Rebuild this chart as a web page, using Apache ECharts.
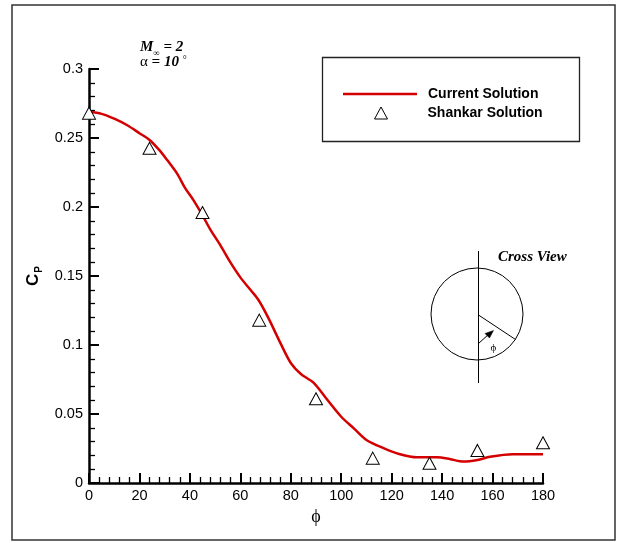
<!DOCTYPE html>
<html>
<head>
<meta charset="utf-8">
<script src="https://cdn.jsdelivr.net/npm/echarts@6/dist/echarts.min.js"></script>
<style>
html,body{margin:0;padding:0;background:#fff;}
#main{width:618px;height:543px;}
</style>
</head>
<body>
<div id="main"></div>
<script>
// ---- data ----
var currentPhi = [0, 5, 10, 15, 20, 24, 28, 31, 35, 38, 41.4, 45, 48, 52, 56, 60, 64, 67.2, 71, 76, 80, 84, 89, 94, 100, 105, 110, 117, 123, 130, 138, 143, 148.5, 154, 159, 168, 180];
var currentCp  = [0.269, 0.2675, 0.264, 0.2594, 0.2535, 0.2486, 0.241, 0.234, 0.224, 0.214, 0.205, 0.194, 0.184, 0.1725, 0.160, 0.149, 0.140, 0.1326, 0.120, 0.101, 0.087, 0.079, 0.0727, 0.0614, 0.048, 0.0396, 0.0312, 0.0251, 0.021, 0.0186, 0.0186, 0.0174, 0.0155, 0.0167, 0.019, 0.0208, 0.0208];
var shankarPhi = [0, 24, 45, 67.5, 90, 112.5, 135, 154, 180];
var shankarCp  = [0.268, 0.2425, 0.196, 0.118, 0.061, 0.018, 0.0143, 0.0236, 0.0292];
var xTicks = {min: 0, max: 180, interval: 20};
var yTicks = {min: 0, max: 0.3, interval: 0.05};

var chart = echarts.init(document.getElementById('main'), null, {renderer: 'canvas'});

function zip(a, b) { return a.map(function (v, i) { return [v, b[i]]; }); }

var axisFont = 'Liberation Sans, Arial, sans-serif';
var legendText = {fontFamily: axisFont, fontWeight: 'bold', fontSize: 14, color: '#000'};

var option = {
  backgroundColor: '#fff',
  animation: false,
  grid: {left: 89, top: 69, width: 454, height: 414, containLabel: false},
  xAxis: {
    type: 'value',
    min: xTicks.min, max: xTicks.max, interval: xTicks.interval,
    name: '\u03D5',
    nameLocation: 'middle',
    nameGap: 20,
    nameTextStyle: {fontFamily: 'Liberation Serif, serif', fontSize: 18, color: '#000'},
    axisLine: {show: true, lineStyle: {color: '#000', width: 2.5}},
    axisTick: {show: true, inside: true, length: 10, lineStyle: {color: '#000', width: 2}},
    minorTick: {show: true, splitNumber: 5, length: 6, lineStyle: {color: '#000', width: 1.3}},
    axisLabel: {color: '#000', fontFamily: axisFont, fontSize: 14.5, margin: 5},
    splitLine: {show: false}
  },
  yAxis: {
    type: 'value',
    min: yTicks.min, max: yTicks.max, interval: yTicks.interval,
    name: '{c|C}{p|P}',
    nameLocation: 'middle',
    nameRotate: 90,
    nameGap: 43,
    nameTextStyle: {
      rich: {
        c: {fontFamily: axisFont, fontWeight: 'bold', fontSize: 17, color: '#000', lineHeight: 20, verticalAlign: 'bottom'},
        p: {fontFamily: axisFont, fontWeight: 'bold', fontSize: 10, color: '#000', lineHeight: 20, verticalAlign: 'bottom', padding: [0, 0, -2, 1]}
      }
    },
    axisLine: {show: true, lineStyle: {color: '#000', width: 2.5}},
    axisTick: {show: true, inside: true, length: 10, lineStyle: {color: '#000', width: 2}},
    minorTick: {show: true, splitNumber: 5, length: 6, lineStyle: {color: '#000', width: 1.3}},
    axisLabel: {color: '#000', fontFamily: axisFont, fontSize: 14.5, margin: 6},
    splitLine: {show: false}
  },
  legend: [
    {
      left: 343, top: 87,
      itemWidth: 74, itemHeight: 12,
      padding: 0,
      textStyle: Object.assign({padding: [0, 0, 0, 6]}, legendText),
      data: [{name: 'Current Solution', icon: 'path://M0,0H74V2.5H0Z', itemStyle: {color: '#d40000', borderWidth: 0}}]
    },
    {
      left: 374, top: 106,
      itemWidth: 13, itemHeight: 12,
      padding: 0,
      textStyle: Object.assign({padding: [0, 0, 0, 35]}, legendText),
      data: [{name: 'Shankar Solution', icon: 'triangle', itemStyle: {color: '#fff', borderColor: '#000', borderWidth: 1}}]
    }
  ],
  series: [
    {
      name: 'Current Solution',
      type: 'line',
      data: zip(currentPhi, currentCp),
      smooth: 0.3,
      showSymbol: false,
      symbol: 'none',
      lineStyle: {color: '#d40000', width: 2.5},
      itemStyle: {color: '#d40000'},
      z: 3
    },
    {
      name: 'Shankar Solution',
      type: 'scatter',
      data: zip(shankarPhi, shankarCp),
      symbol: 'triangle',
      symbolSize: [13, 12],
      itemStyle: {color: '#fff', borderColor: '#000', borderWidth: 1, opacity: 1},
      z: 4
    }
  ],
  graphic: [
    // outer frame
    {type: 'rect', shape: {x: 12, y: 5, width: 603, height: 535}, style: {fill: 'none', stroke: '#333', lineWidth: 1.5}, silent: true},
    // legend frame
    {type: 'rect', shape: {x: 322.5, y: 57.5, width: 257, height: 84}, style: {fill: 'none', stroke: '#222', lineWidth: 1.3}, silent: true},
    // annotation
    {type: 'text', left: 140, top: 40, style: {
      text: '{m|M}{s|\u221E}{m| = 2}\n{a|\u03B1}{m| = 10 }{d|\u00B0}',
      rich: {
        m: {fontFamily: 'Liberation Serif, serif', fontStyle: 'italic', fontWeight: 'bold', fontSize: 15, fill: '#000', lineHeight: 15},
        s: {fontFamily: 'Liberation Serif, serif', fontSize: 9, fill: '#000', lineHeight: 15, verticalAlign: 'bottom', padding: [0, 0, -3, 0]},
        a: {fontFamily: 'Liberation Serif, serif', fontSize: 15, fill: '#000', lineHeight: 15},
        d: {fontFamily: 'Liberation Serif, serif', fontSize: 10, fill: '#000', lineHeight: 15, verticalAlign: 'top'}
      }
    }},
    // cross view inset
    {type: 'circle', shape: {cx: 477, cy: 314, r: 46}, style: {fill: 'none', stroke: '#000', lineWidth: 1}, silent: true},
    {type: 'line', shape: {x1: 478.5, y1: 251, x2: 478.5, y2: 383}, style: {stroke: '#000', lineWidth: 1}, silent: true},
    {type: 'line', shape: {x1: 478.5, y1: 315, x2: 515.5, y2: 339.5}, style: {stroke: '#000', lineWidth: 1}, silent: true},
    {type: 'line', shape: {x1: 478.5, y1: 343.5, x2: 489, y2: 334}, style: {stroke: '#000', lineWidth: 1}, silent: true},
    {type: 'polygon', shape: {points: [[493.5, 330.5], [485, 333.5], [489.5, 338]]}, style: {fill: '#000', stroke: '#000', lineWidth: 0.5}, silent: true},
    {type: 'text', x: 493.5, y: 348.5, style: {text: '\u03D5', fontFamily: 'Liberation Serif, serif', fontSize: 11, fill: '#000', align: 'center', verticalAlign: 'middle'}, silent: true},
    {type: 'text', x: 498, y: 257.5, style: {text: 'Cross View', fontFamily: 'Liberation Serif, serif', fontStyle: 'italic', fontWeight: 'bold', fontSize: 15, fill: '#000', align: 'left', verticalAlign: 'middle'}, silent: true}
  ]
};
chart.setOption(option);
</script>
</body>
</html>
